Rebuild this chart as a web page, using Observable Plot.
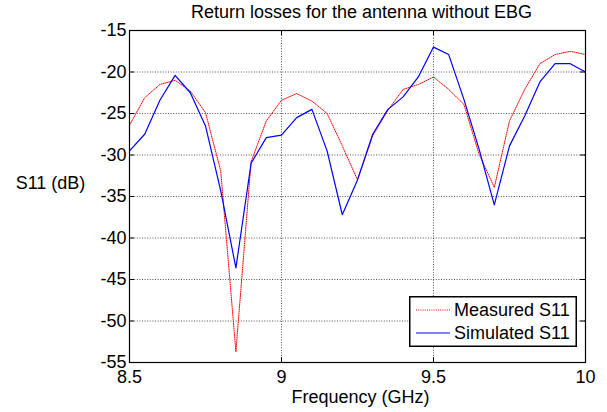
<!DOCTYPE html>
<html>
<head>
<meta charset="utf-8">
<script src="https://cdn.jsdelivr.net/npm/d3@7"></script>
<script src="https://cdn.jsdelivr.net/npm/@observablehq/plot@0.6"></script>
<style>
  body { margin: 0; background: #fff; }
  #wrap { position: relative; width: 607px; height: 412px; font-family: "Liberation Sans", Arial, sans-serif; }
  #legend { position: absolute; left: 409px; top: 296px; }
</style>
</head>
<body>
<div id="wrap"></div>
<script>
// Frequency sweep (GHz)
const freq = [8.50, 8.55, 8.60, 8.65, 8.70, 8.75, 8.80, 8.85, 8.90, 8.95,
              9.00, 9.05, 9.10, 9.15, 9.20, 9.25, 9.30, 9.35, 9.40, 9.45,
              9.50, 9.55, 9.60, 9.65, 9.70, 9.75, 9.80, 9.85, 9.90, 9.95, 10.00];

// Return loss S11 (dB)
const measured = [-26.4, -23.1, -21.5, -21.0, -22.3, -24.9, -31.9, -53.7, -30.8, -25.9,
                  -23.4, -22.6, -23.5, -25.0, -28.9, -33.0, -27.7, -24.6, -22.1, -21.5,
                  -20.6, -22.1, -23.9, -29.9, -33.9, -25.9, -22.1, -19.0, -17.9, -17.5, -17.9];
const simulated = [-29.5, -27.5, -23.4, -20.4, -22.5, -26.5, -34.3, -43.6, -31.0, -27.9,
                   -27.6, -25.5, -24.5, -29.5, -37.2, -33.0, -27.5, -24.5, -23.0, -20.6,
                   -17.0, -17.9, -23.3, -29.3, -36.0, -28.9, -25.3, -21.2, -19.0, -19.0, -20.0];

const xTicks = [8.5, 9, 9.5, 10];
const yTicks = [-55, -50, -45, -40, -35, -30, -25, -20, -15];

const seriesNames = ["Measured S11", "Simulated S11"];
const seriesColors = ["#ff0000", "#0000ff"];
const seriesDash = ["1 1.2", null];

const titleText = "Return losses for the antenna without EBG";
const xLabel = "Frequency (GHz)";
const yLabel = "S11 (dB)";

const rows = freq.map((f, i) => ({f, m: measured[i], s: simulated[i]}));

const W = 607, H = 412, mL = 129, mR = 22, mT = 30, mB = 50;
const frameW = W - mL - mR, frameH = H - mT - mB, tickLen = 5;
const font = "Liberation Sans, Arial, sans-serif";
const fmt = d => String(d);
const grid = {stroke: "#000", strokeOpacity: 0.75, strokeWidth: 0.9, strokeDasharray: "1 1.6"};

const chart = Plot.plot({
  width: W, height: H,
  marginLeft: mL, marginRight: mR, marginTop: mT, marginBottom: mB,
  style: {fontFamily: font, fontSize: "18px", background: "#fff", color: "#000", overflow: "visible"},
  x: {domain: [8.5, 10]},
  y: {domain: [-55, -15]},
  marks: [
    Plot.gridX(xTicks, grid),
    Plot.gridY(yTicks, grid),
    Plot.line(rows, {x: "f", y: "m", stroke: seriesColors[0], strokeWidth: 1, strokeDasharray: seriesDash[0]}),
    Plot.line(rows, {x: "f", y: "s", stroke: seriesColors[1], strokeWidth: 1.2}),
    // inward tick marks on all four sides
    Plot.tickX(xTicks, {x: d => d, insetTop: frameH - tickLen, stroke: "#000"}),
    Plot.tickX(xTicks, {x: d => d, insetBottom: frameH - tickLen, stroke: "#000"}),
    Plot.tickY(yTicks, {y: d => d, insetRight: frameW - tickLen, stroke: "#000"}),
    Plot.tickY(yTicks, {y: d => d, insetLeft: frameW - tickLen, stroke: "#000"}),
    Plot.frame({stroke: "#000", strokeWidth: 1.2}),
    Plot.axisX(xTicks, {tickSize: 0, tickPadding: 8, tickFormat: fmt, label: null, fontSize: 18}),
    Plot.axisY(yTicks, {tickSize: 0, tickPadding: 3, tickFormat: fmt, label: null, fontSize: 18}),
    Plot.text([titleText], {frameAnchor: "top", dx: 4, dy: -13, lineAnchor: "bottom", fontSize: 18, fill: "#000"}),
    Plot.text([xLabel], {frameAnchor: "bottom", dx: 3, dy: 40, lineAnchor: "bottom", fontSize: 18, fill: "#000"}),
    Plot.text([yLabel], {frameAnchor: "top-left", dx: -79, dy: 158, lineAnchor: "bottom", textAnchor: "middle", fontSize: 18, fill: "#000"})
  ]
});

const wrap = document.getElementById("wrap");
wrap.appendChild(chart);

// Legend box in the lower right of the plot area
const lw = 168, lh = 51;
const legend = d3.create("svg")
  .attr("id", "legend")
  .attr("width", lw).attr("height", lh)
  .style("font-family", font);
legend.append("rect")
  .attr("x", 0.75).attr("y", 0.75).attr("width", lw - 1.5).attr("height", lh - 1.5)
  .attr("fill", "#fff").attr("stroke", "#000").attr("stroke-width", 1.5);
seriesNames.forEach((name, i) => {
  const y = 14 + i * 23;
  legend.append("line")
    .attr("x1", 7).attr("x2", 41).attr("y1", y).attr("y2", y)
    .attr("stroke", seriesColors[i]).attr("stroke-width", 1)
    .attr("stroke-dasharray", seriesDash[i]);
  legend.append("text")
    .attr("x", 45).attr("y", y).attr("dy", "0.35em")
    .attr("font-size", 18).attr("fill", "#000")
    .text(name);
});
wrap.appendChild(legend.node());
</script>
</body>
</html>
